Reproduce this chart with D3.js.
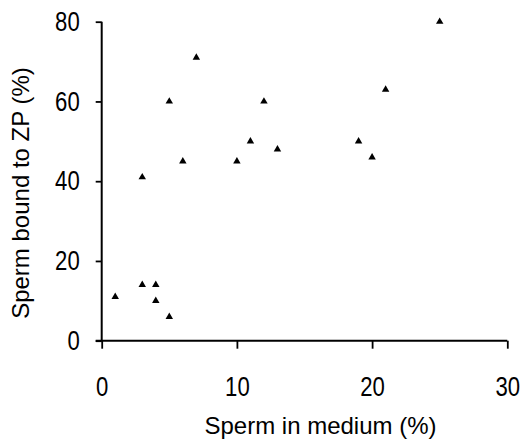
<!DOCTYPE html>
<html>
<head>
<meta charset="utf-8">
<script src="https://cdn.jsdelivr.net/npm/d3@7"></script>
<style>
  html, body { margin: 0; padding: 0; background: #fff; }
  svg { display: block; }
  .tick text { font-family: "Liberation Sans", Arial, sans-serif; font-size: 27px; fill: #000; }
  .title { font-family: "Liberation Sans", Arial, Helvetica, sans-serif; font-size: 24px; fill: #000; }
</style>
</head>
<body>
<svg id="chart" width="522" height="439"></svg>
<script>
const spermInMedium = [1, 3, 3, 4, 4, 5, 5, 6, 7, 10, 11, 12, 13, 19, 20, 21, 25];
const spermBoundZP  = [11, 14, 41, 14, 10, 6, 60, 45, 71, 45, 50, 60, 48, 50, 46, 63, 80];
const xTicks = [0, 10, 20, 30];
const yTicks = [0, 20, 40, 60, 80];
const xTitle = "Sperm in medium (%)";
const yTitle = "Sperm bound to ZP (%)";

const svg = d3.select("#chart");
const x = d3.scaleLinear().domain([0, 30]).range([101.7, 507.3]);
const y = d3.scaleLinear().domain([0, 80]).range([340.7, 21.7]);

const xAxis = d3.axisBottom(x).tickValues(xTicks).tickSize(8).tickPadding(28).tickFormat(d3.format("d"));
const yAxis = d3.axisLeft(y).tickValues(yTicks).tickSize(6).tickPadding(16).tickFormat(d3.format("d"));

const gx = svg.append("g").attr("transform", `translate(0,${y(0)})`).call(xAxis);
const gy = svg.append("g").attr("transform", `translate(${x(0)},0)`).call(yAxis);

[gx, gy].forEach(g => {
  g.select(".domain").remove();
  g.selectAll(".tick line").attr("stroke", "#000").attr("stroke-width", 1.8);
});
// narrow (condensed) digits
gx.selectAll(".tick text").each(function() {
  const t = d3.select(this);
  const yy = +t.attr("y");
  t.attr("y", 0).attr("transform", `translate(0,${yy}) scale(0.82,1)`);
});
gy.selectAll(".tick text").each(function() {
  const t = d3.select(this);
  const xx = +t.attr("x");
  t.attr("x", 0).attr("transform", `translate(${xx},0) scale(0.82,1)`);
});

// axis lines
svg.append("line").attr("x1", x(0) - 6).attr("x2", x(30)).attr("y1", y(0)).attr("y2", y(0))
  .attr("stroke", "#000").attr("stroke-width", 2);
svg.append("line").attr("x1", x(0)).attr("x2", x(0)).attr("y1", y(80)).attr("y2", y(0))
  .attr("stroke", "#000").attr("stroke-width", 2);

const pts = spermInMedium.map((v, i) => ({ x: v, y: spermBoundZP[i] }));
svg.append("g").selectAll("path").data(pts).join("path")
  .attr("d", d3.symbol().type(d3.symbolTriangle).size(24))
  .attr("transform", d => `translate(${x(d.x)},${y(d.y)})`)
  .attr("fill", "#000");

svg.append("text").attr("class", "title")
  .attr("x", 320.5).attr("y", 434).attr("text-anchor", "middle").text(xTitle);
svg.append("text").attr("class", "title")
  .attr("transform", "translate(28.5,193) rotate(-90)")
  .attr("text-anchor", "middle").text(yTitle);
</script>
</body>
</html>
